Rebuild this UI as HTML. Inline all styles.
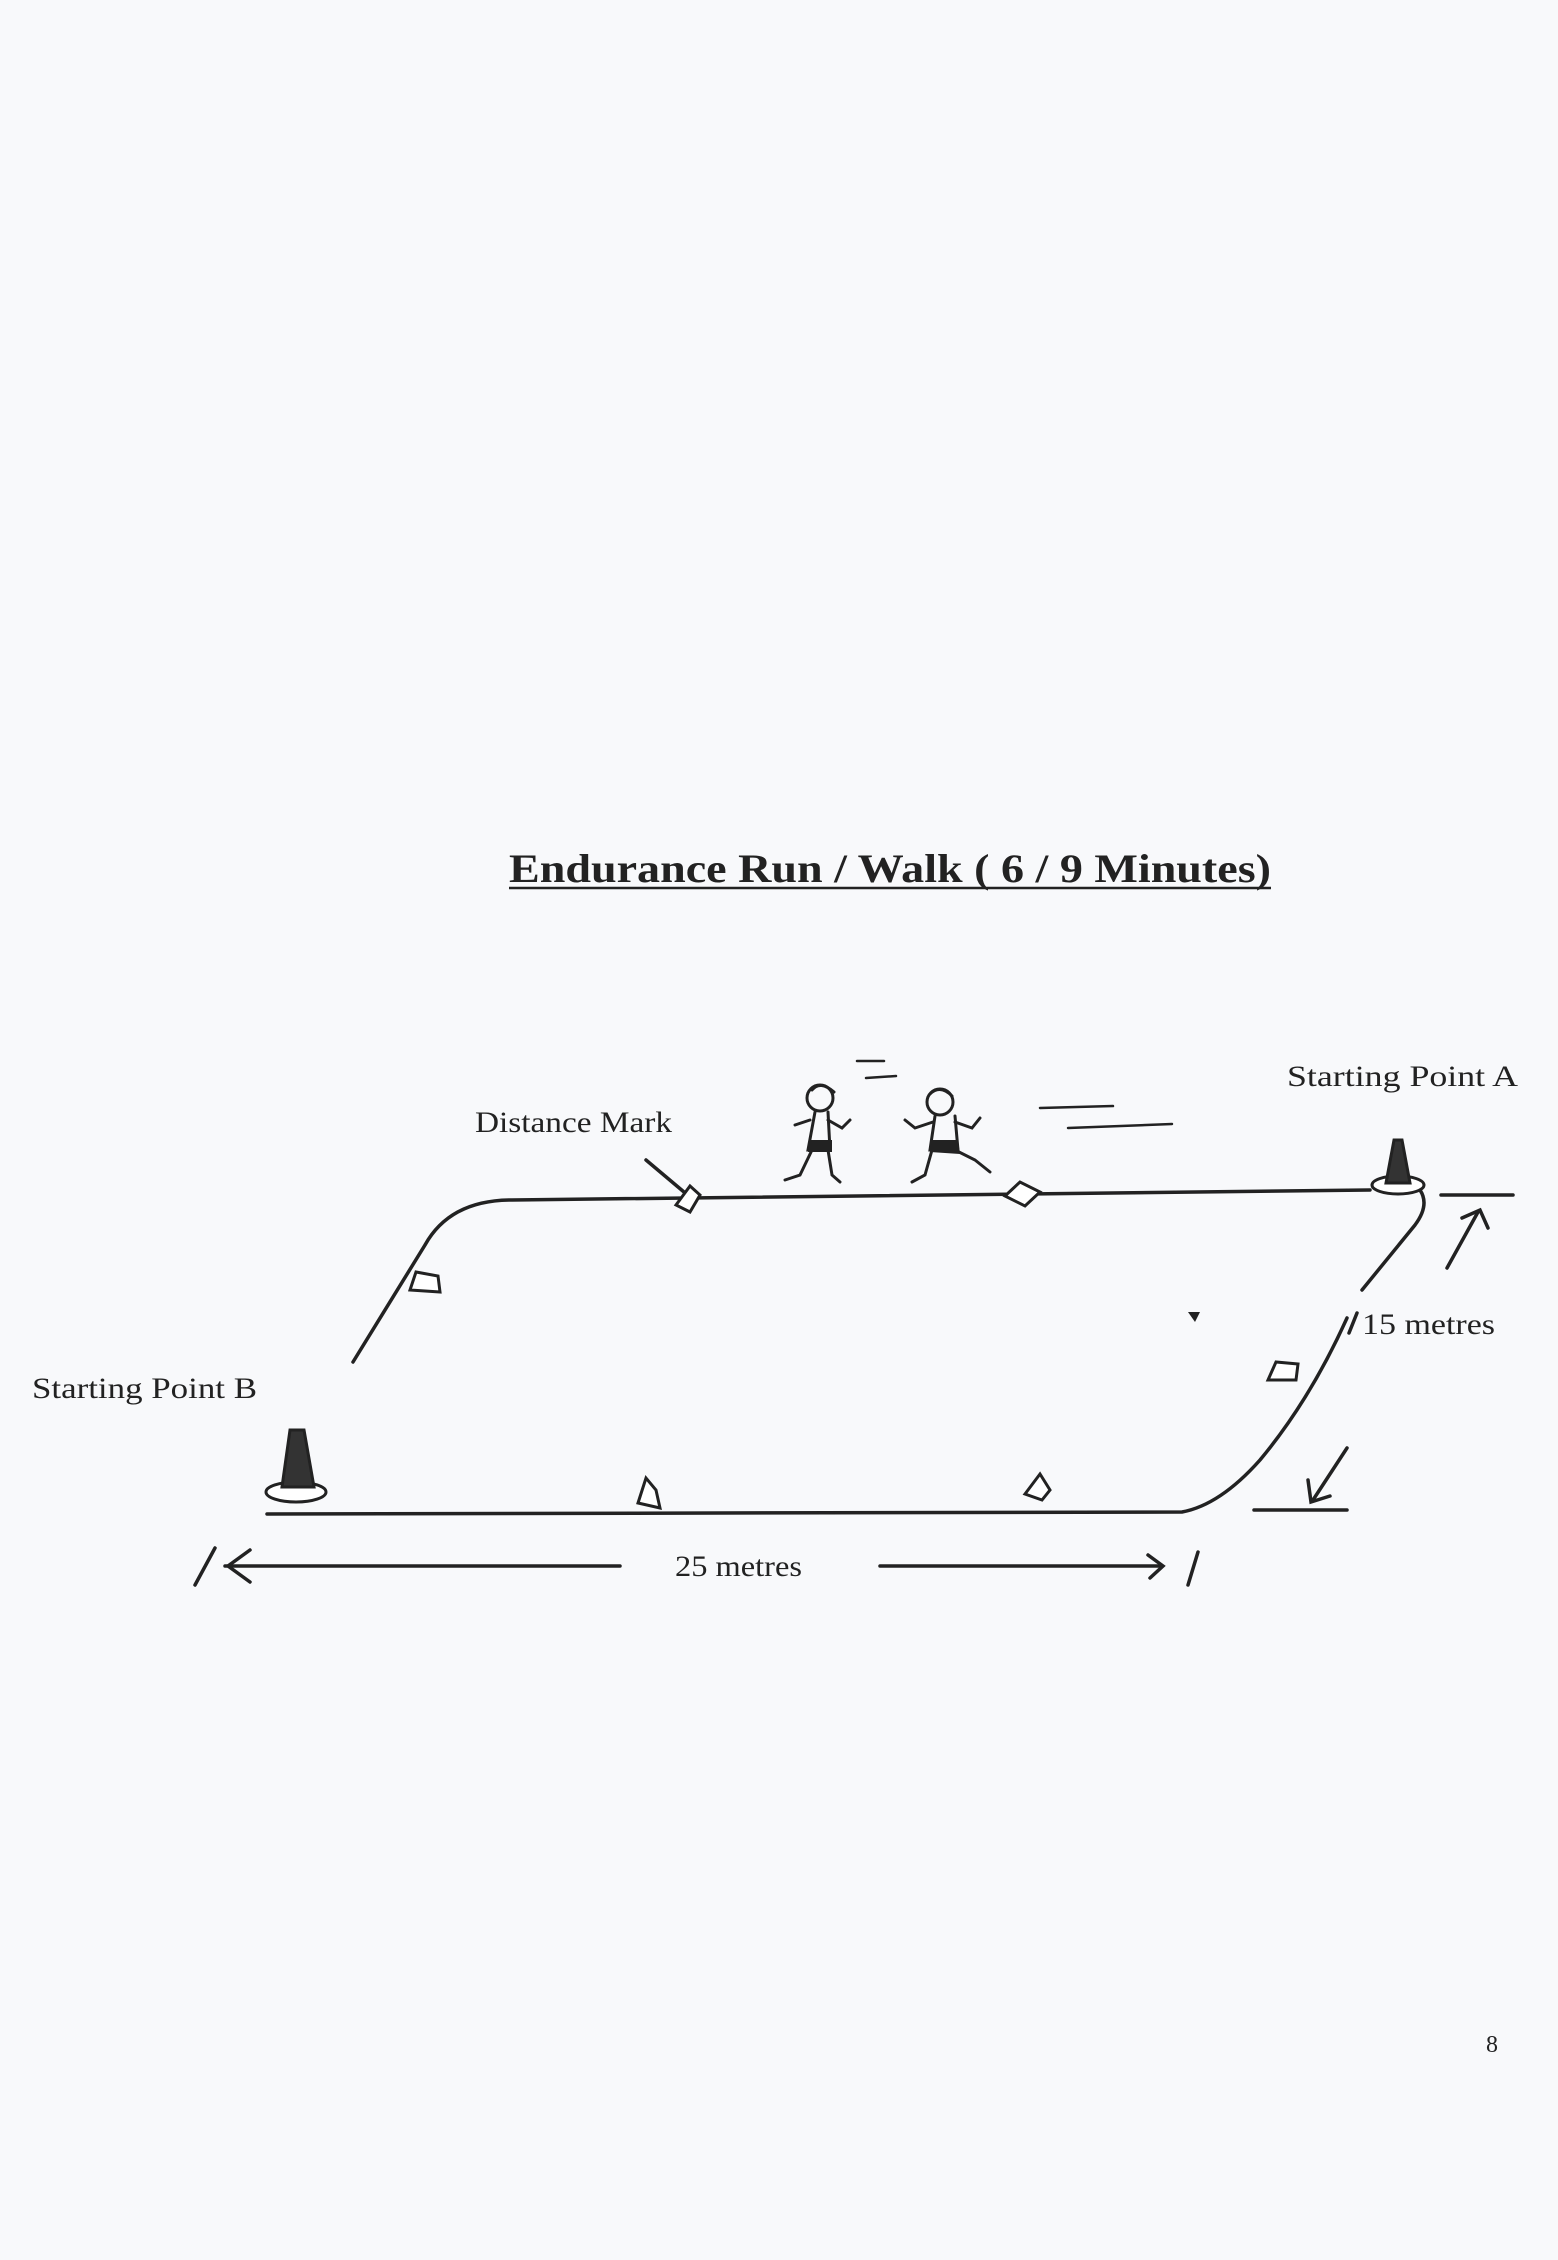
<!DOCTYPE html>
<html><head><meta charset="utf-8"><style>
html,body{margin:0;padding:0;background:#f8f9fb;}
svg{display:block;}
text{font-family:"Liberation Serif",serif;fill:#222;}
</style></head><body>
<svg width="1558" height="2260" viewBox="0 0 1558 2260" xmlns="http://www.w3.org/2000/svg">
<rect width="1558" height="2260" fill="#f8f9fb"/>
<text x="509" y="882" font-size="40" font-weight="bold" textLength="762" lengthAdjust="spacingAndGlyphs">Endurance Run / Walk  ( 6 / 9 Minutes)</text>
<line x1="509" y1="888" x2="1271" y2="888" stroke="#222" stroke-width="2.5"/>
<g fill="none" stroke="#222" stroke-width="3.5" stroke-linecap="round">
<path d="M353,1362 L425,1245 Q450,1200 512,1200 L1370,1190"/>
<path d="M1420,1190 Q1430,1205 1415,1225 L1362,1290"/>
<path d="M1347,1318 Q1310,1400 1260,1460 Q1220,1505 1182,1512 L267,1514"/>
<line x1="225" y1="1566" x2="620" y2="1566"/>
<path d="M250,1550 L228,1566 L250,1582"/>
<line x1="215" y1="1548" x2="195" y2="1585"/>
<line x1="880" y1="1566" x2="1162" y2="1566"/>
<path d="M1148,1555 L1163,1566 L1150,1578"/>
<line x1="1198" y1="1552" x2="1188" y2="1585"/>
<line x1="1441" y1="1195" x2="1513" y2="1195"/>
<line x1="1447" y1="1268" x2="1478" y2="1212"/>
<path d="M1462,1218 L1480,1210 L1488,1228"/>
<line x1="1254" y1="1510" x2="1347" y2="1510"/>
<line x1="1347" y1="1448" x2="1313" y2="1500"/>
<path d="M1308,1480 L1311,1502 L1330,1496"/>
<line x1="1357" y1="1313" x2="1349" y2="1333"/>
<line x1="646" y1="1160" x2="684" y2="1192"/>
<line x1="857" y1="1061" x2="884" y2="1061" stroke-width="2.5"/>
<line x1="866" y1="1078" x2="896" y2="1076" stroke-width="2.5"/>
<line x1="1040" y1="1108" x2="1113" y2="1106" stroke-width="2.5"/>
<line x1="1068" y1="1128" x2="1172" y2="1124" stroke-width="2.5"/>
</g>
<g fill="#fff" stroke="#222" stroke-width="3">
<polygon points="676,1205 690,1186 700,1195 690,1212"/>
<polygon points="1005,1196 1020,1182 1040,1192 1025,1206"/>
<polygon points="410,1290 416,1272 438,1276 440,1292"/>
<polygon points="1268,1380 1276,1362 1298,1364 1296,1380"/>
<polygon points="638,1503 646,1478 656,1490 660,1508"/>
<polygon points="1025,1494 1040,1474 1050,1490 1042,1500"/>
</g>
<g stroke="#222" stroke-width="3">
<ellipse cx="1398" cy="1185" rx="26" ry="9" fill="#fff"/>
<path d="M1386,1183 L1394,1140 L1402,1140 L1410,1183 Z" fill="#333"/>
<ellipse cx="296" cy="1492" rx="30" ry="10" fill="#fff"/>
<path d="M282,1487 L290,1430 L304,1430 L314,1487 Z" fill="#333"/>
</g>
<g fill="none" stroke="#222" stroke-width="3" stroke-linecap="round">
<circle cx="820" cy="1098" r="13"/>
<path d="M812,1090 Q820,1080 834,1092"/>
<path d="M815,1112 L808,1150 L830,1150 L828,1112"/>
<path d="M810,1120 L795,1125 M828,1120 L842,1128 L850,1120"/>
<path d="M812,1150 L800,1175 L785,1180 M828,1150 L832,1175 L840,1182"/>
<circle cx="940" cy="1102" r="13"/>
<path d="M930,1094 Q940,1084 952,1096"/>
<path d="M935,1116 L930,1150 L958,1150 L955,1116"/>
<path d="M933,1122 L915,1128 L905,1120 M955,1122 L972,1128 L980,1118"/>
<path d="M932,1150 L925,1175 L912,1182 M955,1150 L975,1160 L990,1172"/>
</g>
<path d="M810,1140 L832,1140 L832,1152 L808,1152 Z M930,1140 L958,1140 L960,1154 L930,1152 Z" fill="#222"/>
<path d="M1188,1312 L1200,1312 L1195,1322 Z" fill="#222"/>
<text x="1287" y="1086" font-size="30" textLength="231" lengthAdjust="spacingAndGlyphs">Starting Point A</text>
<text x="475" y="1132" font-size="30" textLength="197" lengthAdjust="spacingAndGlyphs">Distance Mark</text>
<text x="32" y="1398" font-size="30" textLength="225" lengthAdjust="spacingAndGlyphs">Starting Point B</text>
<text x="1362" y="1334" font-size="30" textLength="133" lengthAdjust="spacingAndGlyphs">15 metres</text>
<text x="675" y="1576" font-size="30" textLength="127" lengthAdjust="spacingAndGlyphs">25 metres</text>
<text x="1486" y="2052" font-size="24">8</text>
</svg>
</body></html>
